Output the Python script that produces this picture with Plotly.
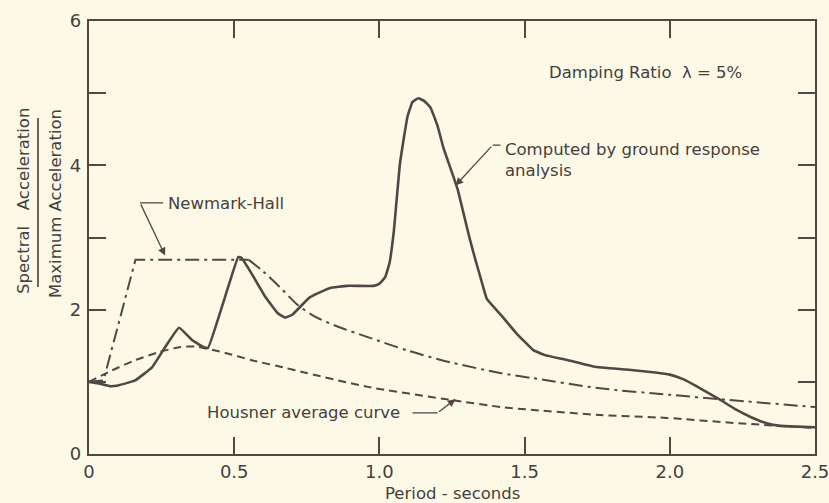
import plotly.graph_objects as go

# Period (s) and normalised spectral acceleration, 5% damping
computed_T = [0.00, 0.03, 0.072, 0.10, 0.159, 0.217, 0.262, 0.31, 0.355, 0.39, 0.41,
              0.514, 0.525, 0.56, 0.607, 0.65, 0.675, 0.70, 0.76, 0.83, 0.89, 0.98,
              1.00, 1.02, 1.035, 1.05, 1.07, 1.085, 1.097, 1.114, 1.134, 1.155, 1.176,
              1.20, 1.22, 1.25, 1.27, 1.29, 1.31, 1.33, 1.35, 1.37, 1.42, 1.47, 1.53,
              1.57, 1.65, 1.74, 1.85, 1.95, 2.00, 2.05, 2.10, 2.17, 2.23, 2.28, 2.33,
              2.38, 2.44, 2.50]
computed_SA = [1.00, 0.98, 0.94, 0.95, 1.02, 1.20, 1.48, 1.75, 1.58, 1.49, 1.47,
               2.73, 2.72, 2.50, 2.18, 1.95, 1.89, 1.93, 2.17, 2.30, 2.33, 2.33,
               2.36, 2.45, 2.65, 3.10, 4.00, 4.40, 4.68, 4.88, 4.93, 4.89, 4.80,
               4.55, 4.25, 3.90, 3.66, 3.33, 3.00, 2.70, 2.42, 2.15, 1.92, 1.68, 1.44,
               1.37, 1.30, 1.21, 1.17, 1.13, 1.10, 1.03, 0.92, 0.76, 0.61, 0.51, 0.43,
               0.39, 0.38, 0.37]

newmark_T = [0.00, 0.05, 0.16, 0.55, 0.60, 0.66, 0.72, 0.78, 0.86, 0.96, 1.10,
             1.245, 1.42, 1.53, 1.76, 2.00, 2.17, 2.50]
newmark_SA = [1.00, 1.02, 2.69, 2.69, 2.53, 2.30, 2.06, 1.90, 1.76, 1.62, 1.43,
              1.27, 1.12, 1.05, 0.91, 0.82, 0.76, 0.65]

housner_T = [0.00, 0.08, 0.159, 0.24, 0.31, 0.365, 0.47, 0.56, 0.68, 0.73, 0.96,
             1.245, 1.42, 1.53, 1.76, 1.99, 2.22, 2.50]
housner_SA = [1.00, 1.16, 1.30, 1.41, 1.48, 1.49, 1.40, 1.30, 1.19, 1.14, 0.93,
              0.75, 0.65, 0.61, 0.54, 0.50, 0.43, 0.36]

x_tickvals = [0, 0.5, 1.0, 1.5, 2.0, 2.5]
x_ticktext = ["0", "0.5", "1.0", "1.5", "2.0", "2.5"]
y_tickvals = [0, 1, 2, 3, 4, 5, 6]
y_ticktext = ["0", "", "2", "", "4", "", "6"]

INK = "#554646"
TEXT = "#463e3e"
PAPER = "#fcfae6"
FONT = "DejaVu Sans"
LABEL = 16.5

fig = go.Figure()

fig.add_trace(go.Scatter(x=housner_T, y=housner_SA, mode="lines",
                         line=dict(color=INK, width=2, dash="8px,5px", shape="spline", smoothing=0.6),
                         hoverinfo="skip"))
# rising branch and plateau drawn straight, velocity branch smoothed
fig.add_trace(go.Scatter(x=newmark_T[:4], y=newmark_SA[:4], mode="lines",
                         line=dict(color=INK, width=2, dash="14px,5px,3px,5px"),
                         hoverinfo="skip"))
fig.add_trace(go.Scatter(x=newmark_T[3:], y=newmark_SA[3:], mode="lines",
                         line=dict(color=INK, width=2, dash="14px,5px,3px,5px",
                                   shape="spline", smoothing=0.8),
                         hoverinfo="skip"))
fig.add_trace(go.Scatter(x=computed_T, y=computed_SA, mode="lines",
                         line=dict(color=INK, width=2.6, shape="spline", smoothing=0.3),
                         hoverinfo="skip"))

axis_common = dict(showline=True, linecolor=INK, linewidth=2.2, mirror="ticks",
                   ticks="inside", ticklen=17, tickwidth=2, tickcolor=INK,
                   showgrid=False, zeroline=False, ticklabeloverflow="allow",
                   automargin=False,
                   tickfont=dict(family=FONT, size=18, color=TEXT))

fig.update_xaxes(range=[0, 2.5], tickvals=x_tickvals, ticktext=x_ticktext,
                 ticklabelstandoff=0, **axis_common)
fig.update_yaxes(range=[0, 6], tickvals=y_tickvals, ticktext=y_ticktext,
                 ticklabelstandoff=2, **axis_common)

L, R, T, B = 89, 14, 21, 49
W, H = 829, 503
PW, PH = W - L - R, H - T - B


def px(xp):
    return (xp - L) / PW


def py(yp):
    return (H - B - yp) / PH


def label(x, y, text, xanchor="center", **kw):
    return dict(x=x, y=y, xref="x", yref="y", text=text, showarrow=False,
                xanchor=xanchor, yanchor="middle",
                font=dict(family=FONT, size=LABEL, color=TEXT), **kw)


def paper_label(x, y, text, **kw):
    return dict(x=x, y=y, xref="paper", yref="paper", text=text, showarrow=False,
                xanchor="center", yanchor="middle",
                font=dict(family=FONT, size=LABEL, color=TEXT), **kw)


def leader(tip, tail):
    return dict(x=tip[0], y=tip[1], ax=tail[0], ay=tail[1],
                xref="x", yref="y", axref="x", ayref="y", text="",
                showarrow=True, arrowhead=2, arrowsize=1.2, arrowwidth=1.3,
                arrowcolor=INK)


annotations = [
    label(1.917, 5.29, "Damping Ratio  λ = 5%"),
    label(1.424, 4.07, "Computed by ground response<br>analysis", xanchor="left", align="left"),
    label(0.265, 3.47, "Newmark-Hall", xanchor="left"),
    label(0.40, 0.57, "Housner average curve", xanchor="left"),
    paper_label(px(452), py(493), "Period - seconds"),
    paper_label(px(23), py(201), "Spectral   Acceleration", textangle=-90),
    paper_label(px(55), py(204), "Maximum Acceleration", textangle=-90),
    leader((1.262, 3.72), (1.39, 4.28)),
    leader((0.262, 2.75), (0.176, 3.48)),
    leader((1.262, 0.76), (1.20, 0.57)),
]

shapes = [
    dict(type="line", xref="x", yref="y", x0=1.39, y0=4.28, x1=1.417, y1=4.28,
         line=dict(color=INK, width=1.3)),
    dict(type="line", xref="x", yref="y", x0=0.176, y0=3.48, x1=0.255, y1=3.48,
         line=dict(color=INK, width=1.3)),
    dict(type="line", xref="x", yref="y", x0=1.114, y0=0.57, x1=1.2, y1=0.57,
         line=dict(color=INK, width=1.3)),
    # fraction bar between the two axis-title lines
    dict(type="line", xref="paper", yref="paper", x0=px(38), y0=py(118), x1=px(38), y1=py(287),
         line=dict(color=TEXT, width=1.6)),
]

fig.update_layout(
    width=W, height=H,
    margin=dict(l=L, r=R, t=T, b=B),
    paper_bgcolor=PAPER, plot_bgcolor=PAPER,
    showlegend=False,
    annotations=annotations,
    shapes=shapes,
)

fig.write_html("out.html")
